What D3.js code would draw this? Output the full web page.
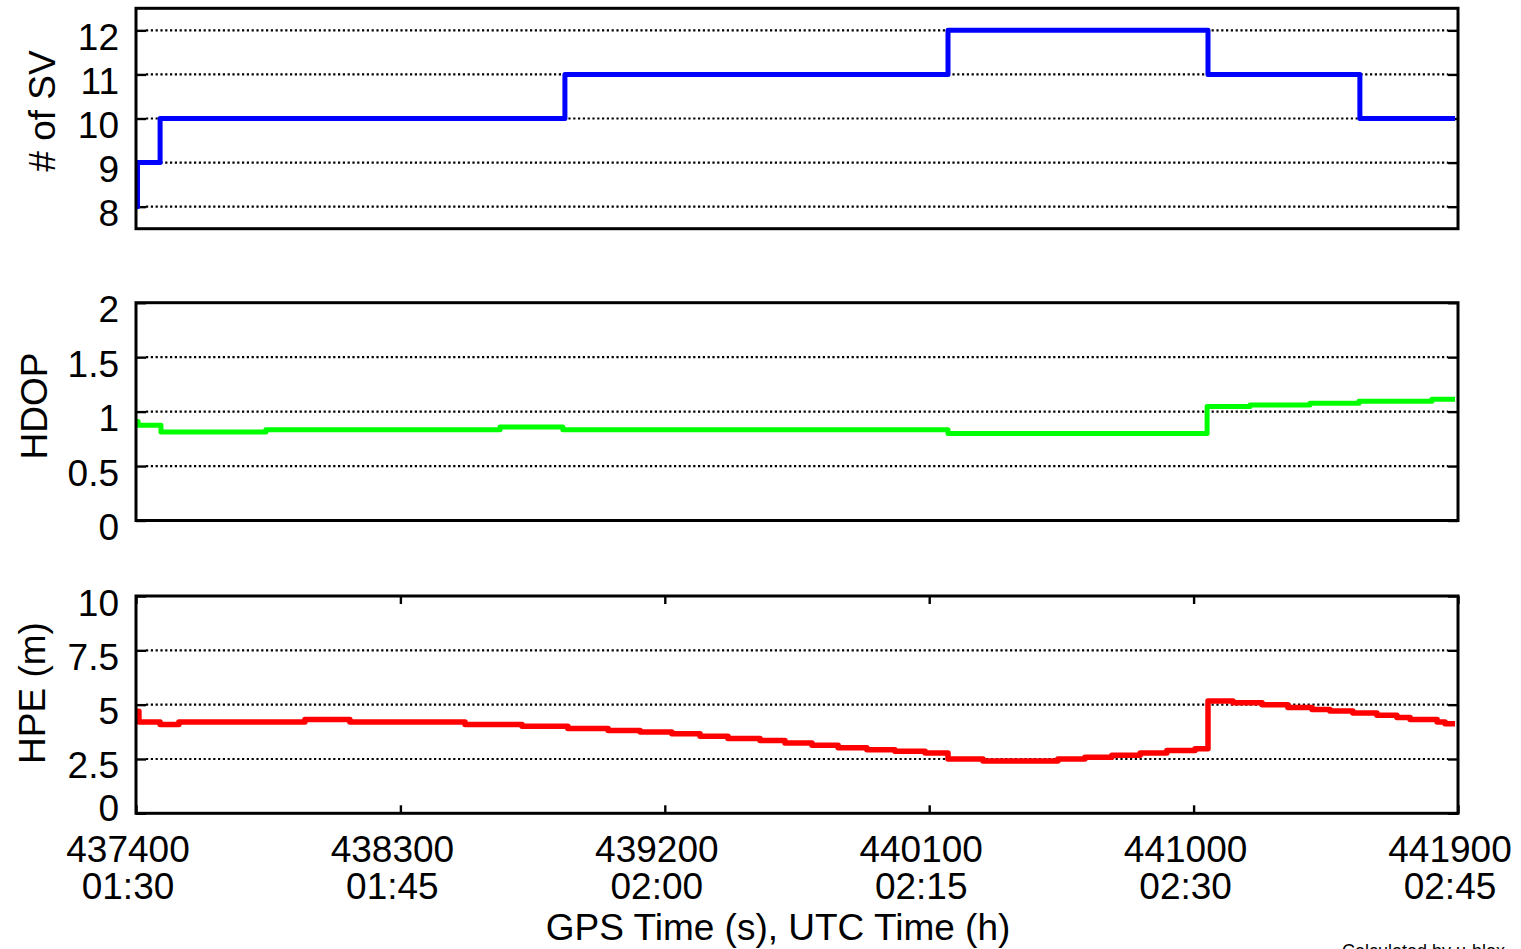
<!DOCTYPE html>
<html>
<head>
<meta charset="utf-8">
<script src="https://cdn.jsdelivr.net/npm/d3@7"></script>
<style>
  html, body { margin: 0; padding: 0; background: #fff; overflow: hidden; }
  svg { display: block; }
  text { font-family: "Liberation Sans", Arial, sans-serif; fill: #000; }
</style>
</head>
<body>
<script>
// ---- data ----
const svTime = [437400, 437405, 437482, 438860, 440164, 441049, 441566, 441890];
const svVal  = [8, 9, 10, 11, 12, 11, 10, 10];

const hdopTime = [437400, 437407, 437485, 437842, 438639, 438853, 440164, 441046, 441192, 441396, 441563, 441811, 441890];
const hdopVal  = [0.91, 0.875, 0.813, 0.834, 0.859, 0.834, 0.80, 1.046, 1.061, 1.077, 1.095, 1.113, 1.113];

const hpeTime = [437400, 437410, 437482, 437546, 437975, 438128, 438520, 438714, 438870, 439007,
                 439116, 439224, 439320, 439415, 439524, 439609, 439701, 439790, 439888, 439983,
                 440086, 440164, 440283, 440538, 440630, 440722, 440818, 440909, 441005, 441049,
                 441134, 441233, 441321, 441403, 441464, 441542, 441624, 441692, 441737, 441829,
                 441856, 441890];
const hpeVal  = [4.7, 4.2, 4.09, 4.2, 4.32, 4.2, 4.09, 4.01, 3.90, 3.81,
                 3.74, 3.66, 3.55, 3.44, 3.35, 3.24, 3.13, 3.02, 2.93, 2.86,
                 2.78, 2.5, 2.41, 2.5, 2.58, 2.67, 2.78, 2.89, 2.97, 5.17,
                 5.09, 5.0, 4.87, 4.78, 4.71, 4.62, 4.51, 4.41, 4.32, 4.2,
                 4.12, 4.12];

const xTickGps = [437400, 438300, 439200, 440100, 441000, 441900];
const xTickUtc = ["01:30", "01:45", "02:00", "02:15", "02:30", "02:45"];

const svTicks = [8, 9, 10, 11, 12];
const hdopTicks = [0, 0.5, 1, 1.5, 2];
const hpeTicks = [0, 2.5, 5, 7.5, 10];

// ---- layout ----
const W = 1521, H = 949;
const svg = d3.select("body").append("svg").attr("width", W).attr("height", H);

const x = d3.scaleLinear().domain([437400, 441900]).range([136, 1458]);

const panels = [
  { time: svTime, val: svVal, ticks: svTicks, domain: [7.5, 12.5], range: [228.7, 8.3],
    color: "#0000ff", width: 5, title: "# of SV", titleX: 55, titleY: 111, fmt: d => d3.format("d")(d) },
  { time: hdopTime, val: hdopVal, ticks: hdopTicks, domain: [0, 2], range: [520.5, 302.7],
    color: "#00ff00", width: 5, title: "HDOP", titleX: 47, titleY: 406, fmt: d => String(d) },
  { time: hpeTime, val: hpeVal, ticks: hpeTicks, domain: [0, 10], range: [813.3, 596],
    color: "#ff0000", width: 5.5, title: "HPE (m)", titleX: 45, titleY: 693, fmt: d => String(d), xaxis: true }
];

const FS = 37;

panels.forEach((p, pi) => {
  const y = d3.scaleLinear().domain(p.domain).range(p.range);
  const g = svg.append("g");
  const x0 = x.range()[0], x1 = x.range()[1];

  // gridlines (internal ticks only)
  const inner = p.ticks.filter(t => t > p.domain[0] && t < p.domain[1]);
  g.selectAll("line.grid").data(inner).join("line")
    .attr("class", "grid")
    .attr("x1", x0 + 10).attr("x2", x1 - 10)
    .attr("y1", d => y(d)).attr("y2", d => y(d))
    .attr("stroke", "#000").attr("stroke-width", 2.2)
    .attr("stroke-dasharray", "2.2,2.6");

  // left axis ticks + labels
  const ay = g.append("g").attr("transform", `translate(${x0},0)`)
    .call(d3.axisLeft(y).tickValues(p.ticks).tickSize(-10).tickPadding(17).tickFormat(p.fmt));
  ay.select(".domain").remove();
  ay.selectAll(".tick line").attr("stroke", "#000").attr("stroke-width", 2.4);
  ay.selectAll(".tick text")
    .attr("font-size", FS).attr("font-family", "Liberation Sans, Arial, sans-serif")
    .attr("fill", "#000")
    .attr("dy", d => (p.xaxis && d === p.domain[0]) ? 7 : 19);

  // right ticks
  const ar = g.append("g").attr("transform", `translate(${x1},0)`)
    .call(d3.axisRight(y).tickValues(p.ticks).tickSize(-10).tickFormat(""));
  ar.select(".domain").remove();
  ar.selectAll(".tick line").attr("stroke", "#000").attr("stroke-width", 2.4);

  // x ticks for bottom panel
  if (p.xaxis) {
    const ab = g.append("g").attr("transform", `translate(0,${p.range[0]})`)
      .call(d3.axisBottom(x).tickValues(xTickGps).tickSize(-8).tickFormat(""));
    ab.select(".domain").remove();
    ab.selectAll(".tick line").attr("stroke", "#000").attr("stroke-width", 2.4);
    const at = g.append("g").attr("transform", `translate(0,${p.range[1]})`)
      .call(d3.axisTop(x).tickValues(xTickGps).tickSize(-8).tickFormat(""));
    at.select(".domain").remove();
    at.selectAll(".tick line").attr("stroke", "#000").attr("stroke-width", 2.4);

    const lab = g.selectAll("g.xlab").data(xTickGps).join("g")
      .attr("class", "xlab")
      .attr("transform", d => `translate(${x(d) - 8},0)`);
    lab.append("text").attr("y", 861.5).attr("text-anchor", "middle")
      .attr("font-size", FS).text(d => d);
    lab.append("text").attr("y", 898.5).attr("text-anchor", "middle")
      .attr("font-size", FS).text((d, i) => xTickUtc[i]);
  }

  // data line
  const pts = p.time.map((t, i) => [t, p.val[i]]);
  const line = d3.line().x(d => x(d[0])).y(d => y(d[1])).curve(d3.curveStepAfter);
  g.append("path").datum(pts)
    .attr("d", line)
    .attr("fill", "none")
    .attr("stroke", p.color)
    .attr("stroke-width", p.width)
    .attr("stroke-linejoin", "round");

  // border
  g.append("rect")
    .attr("x", x0).attr("y", p.range[1])
    .attr("width", x1 - x0).attr("height", p.range[0] - p.range[1])
    .attr("fill", "none").attr("stroke", "#000").attr("stroke-width", 3);

  // y title
  g.append("text")
    .attr("transform", `translate(${p.titleX},${p.titleY}) rotate(-90)`)
    .attr("text-anchor", "middle")
    .attr("font-size", FS)
    .text(p.title);
});

// x title
svg.append("text")
  .attr("x", 778).attr("y", 940)
  .attr("text-anchor", "middle")
  .attr("font-size", FS)
  .text("GPS Time (s), UTC Time (h)");

// footnote at the bottom edge (only its top is visible in the reference)
svg.append("text")
  .attr("x", 1342).attr("y", 957)
  .attr("font-size", 18)
  .text("Calculated by u-blox");
</script>
</body>
</html>
